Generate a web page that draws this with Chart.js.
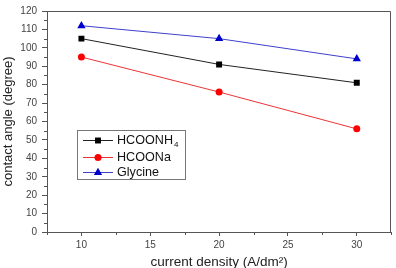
<!DOCTYPE html>
<html><head><meta charset="utf-8">
<script src="https://cdn.jsdelivr.net/npm/chart.js@4.4.0/dist/chart.umd.min.js"></script>
<style>html,body{margin:0;padding:0;background:#fff;}#wrap{width:396px;height:268px;}</style>
</head><body><div id="wrap"><canvas id="c" width="396" height="268"></canvas></div>
<script>
const currentDensity = [10, 20, 30];
const hcoonh4 = [105, 91, 81];
const hcoona = [95, 76, 56];
const glycine = [112, 105, 94];
const seriesNames = ['HCOONH₄', 'HCOONa', 'Glycine'];
const xTicks = [10, 15, 20, 25, 30];
const yTicks = [0, 10, 20, 30, 40, 50, 60, 70, 80, 90, 100, 110, 120];
const xTitle = 'current density (A/dm²)';
const yTitle = 'contact angle (degree)';

const FONT = "'Liberation Sans', Arial, sans-serif";
const AXIS = '#555';

function pts(ys) { return currentDensity.map((x, i) => ({x, y: ys[i]})); }

const styles = [
  {line: '#222', fill: '#000', shape: 'rect', r: 4.2},
  {line: '#ee3333', fill: '#ff0000', shape: 'circle', r: 3.5},
  {line: '#4040cc', fill: '#0000cc', shape: 'triangle', r: 4.8}
];
const seriesVals = [hcoonh4, hcoona, glycine];

const datasets = seriesVals.map((v, i) => ({
  label: seriesNames[i],
  data: pts(v),
  borderColor: styles[i].line,
  backgroundColor: styles[i].fill,
  pointBackgroundColor: styles[i].fill,
  pointBorderColor: styles[i].fill,
  pointStyle: styles[i].shape,
  pointRadius: styles[i].r,
  pointBorderWidth: 0,
  borderWidth: 1,
  showLine: true,
  tension: 0
}));

function drawMarker(ctx, shape, x, y, r, color) {
  ctx.save();
  ctx.fillStyle = color;
  ctx.beginPath();
  if (shape === 'rect') {
    const s = Math.SQRT1_2 * r;
    ctx.rect(x - s, y - s, 2 * s, 2 * s);
  } else if (shape === 'circle') {
    ctx.arc(x, y, r, 0, Math.PI * 2);
  } else {
    for (let k = 0; k < 3; k++) {
      const a = -Math.PI / 2 + k * 2 * Math.PI / 3;
      const px = x + r * Math.cos(a), py = y + r * Math.sin(a);
      if (k === 0) ctx.moveTo(px, py); else ctx.lineTo(px, py);
    }
    ctx.closePath();
  }
  ctx.fill();
  ctx.restore();
}

function drawLabel(ctx, text, x, y, size) {
  let cx = x;
  for (const ch of text) {
    const code = ch.codePointAt(0);
    if (code >= 0x2080 && code <= 0x2089) {
      ctx.font = Math.round(size * 0.62) + 'px ' + FONT;
      const d = String(code - 0x2080);
      ctx.fillText(d, cx + 1, y + size * 0.3);
      cx += ctx.measureText(d).width + 1;
    } else {
      ctx.font = size + 'px ' + FONT;
      ctx.fillText(ch, cx, y);
      cx += ctx.measureText(ch).width;
    }
  }
}

const extras = {
  id: 'extras',
  afterDraw(chart) {
    const ctx = chart.ctx;
    const a = chart.chartArea;
    const xs = chart.scales.x, ys = chart.scales.y;
    ctx.save();
    ctx.strokeStyle = AXIS;
    ctx.lineWidth = 1;
    ctx.beginPath();
    ctx.moveTo(Math.round(a.left) + 0.5, Math.round(a.top) + 0.5);
    ctx.lineTo(Math.round(a.right) - 0.5, Math.round(a.top) + 0.5);
    ctx.lineTo(Math.round(a.right) - 0.5, Math.round(a.bottom) + 0.5);
    ctx.stroke();
    ctx.beginPath();
    for (let i = 0; i < yTicks.length - 1; i++) {
      const v = (yTicks[i] + yTicks[i + 1]) / 2;
      const py = Math.round(ys.getPixelForValue(v)) + 0.5;
      ctx.moveTo(a.left, py); ctx.lineTo(a.left - 3, py);
    }
    const step = xTicks[1] - xTicks[0];
    for (let v = xTicks[0] - step / 2; v <= xs.max + 1e-9; v += step) {
      if (xTicks.includes(v)) continue;
      const px = Math.round(xs.getPixelForValue(v)) + 0.5;
      ctx.moveTo(px, a.bottom); ctx.lineTo(px, a.bottom + 3);
    }
    ctx.stroke();
    const lx = 77, ly = 130, lw = 108, lh = 49;
    ctx.fillStyle = '#fff';
    ctx.fillRect(lx, ly, lw, lh);
    ctx.strokeStyle = '#777';
    ctx.strokeRect(lx + 0.5, ly + 0.5, lw, lh);
    const rows = [140, 157, 172];
    chart.data.datasets.forEach((ds, i) => {
      const y = rows[i];
      ctx.strokeStyle = styles[i].line;
      ctx.beginPath();
      ctx.moveTo(83, y + 0.5); ctx.lineTo(113, y + 0.5);
      ctx.stroke();
      drawMarker(ctx, styles[i].shape, 98, y + 0.5, styles[i].r, styles[i].fill);
      ctx.fillStyle = '#111';
      ctx.textBaseline = 'middle';
      ctx.textAlign = 'left';
      drawLabel(ctx, ds.label, 117, y + 1, 12.6);
    });
    ctx.restore();
  }
};

new Chart(document.getElementById('c'), {
  type: 'scatter',
  data: {datasets},
  options: {
    responsive: false,
    animation: false,
    devicePixelRatio: 1,
    layout: {padding: {top: 5, right: 4, left: 0, bottom: 0}},
    plugins: {legend: {display: false}, tooltip: {enabled: false}},
    scales: {
      x: {
        type: 'linear', min: 7.5, max: 32.5,
        afterBuildTicks: s => { s.ticks = xTicks.map(v => ({value: v})); },
        afterFit: s => { s.height = 36; },
        grid: {drawOnChartArea: false, drawTicks: true, tickLength: 4, color: AXIS},
        border: {display: true, color: AXIS, width: 1},
        ticks: {font: {family: FONT, size: 10}, color: '#444', padding: 3, maxRotation: 0},
        title: {display: true, text: xTitle, font: {family: FONT, size: 13.5, lineHeight: 1}, color: '#222', padding: {top: 0, bottom: -0.75}}
      },
      y: {
        type: 'linear', min: 0, max: 120,
        afterBuildTicks: s => { s.ticks = yTicks.map(v => ({value: v})); },
        afterFit: s => { s.width = 47; },
        grid: {drawOnChartArea: false, drawTicks: true, tickLength: 5, color: AXIS},
        border: {display: true, color: AXIS, width: 1},
        ticks: {font: {family: FONT, size: 10}, color: '#444', padding: 5},
        title: {display: true, text: yTitle, font: {family: FONT, size: 13, lineHeight: 1}, color: '#222', padding: {top: 2, bottom: 0}}
      }
    }
  },
  plugins: [extras]
});
</script></body></html>
